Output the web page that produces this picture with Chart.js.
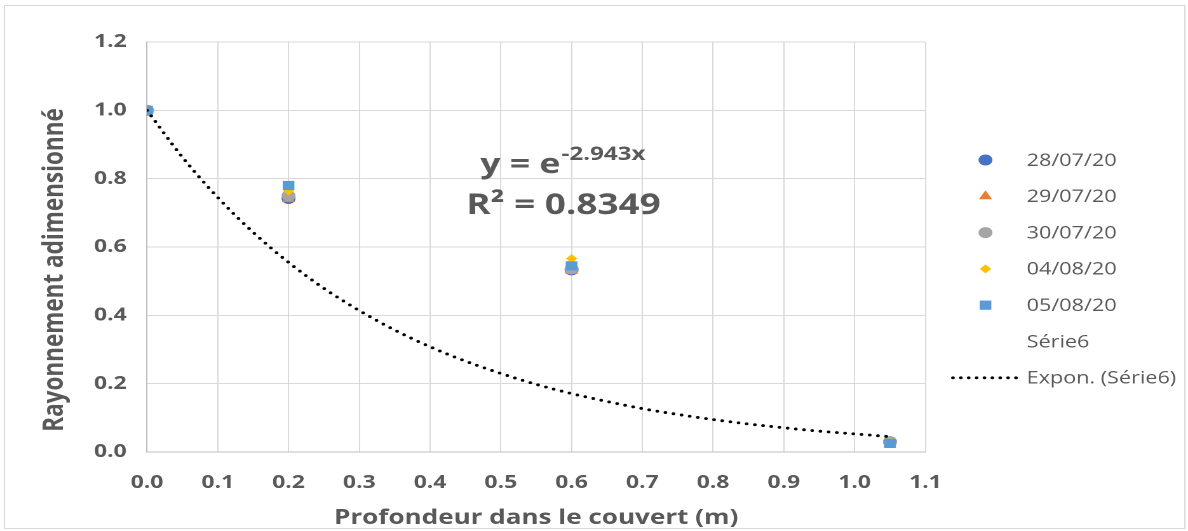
<!DOCTYPE html>
<html><head><meta charset="utf-8">
<script src="https://cdn.jsdelivr.net/npm/chart.js@4/dist/chart.umd.min.js"></script>
<style>
html,body{margin:0;padding:0;background:#fff;overflow:hidden}
#wrap{position:absolute;left:0;top:0;width:935px;height:531px;transform:scaleX(1.2706);transform-origin:0 0}
</style></head><body>
<div id="wrap"><canvas id="c" width="935" height="531"></canvas></div>
<script>
// ---- data ----
const depths = [0, 0.2, 0.6, 1.05];
const s2807 = [1.0, 0.742, 0.533, 0.030];
const s2907 = [1.0, 0.740, 0.530, 0.025];
const s3007 = [1.0, 0.750, 0.536, 0.030];
const s0408 = [1.0, 0.764, 0.566, 0.028];
const s0508 = [1.0, 0.780, 0.545, 0.025];
const seriesNames = ['28/07/20','29/07/20','30/07/20','04/08/20','05/08/20','Série6','Expon. (Série6)'];
const trendX = [0,0.05,0.1,0.15,0.2,0.25,0.3,0.35,0.4,0.45,0.5,0.55,0.6,0.65,0.7,0.75,0.8,0.85,0.9,0.95,1.0,1.05];
const trendY = [1.000,0.863,0.745,0.643,0.555,0.479,0.414,0.357,0.308,0.266,0.230,0.198,0.171,0.148,0.127,0.110,0.095,0.082,0.071,0.061,0.053,0.045];
const xTicks = [0,0.1,0.2,0.3,0.4,0.5,0.6,0.7,0.8,0.9,1.0,1.1];
const yTicks = [0,0.2,0.4,0.6,0.8,1.0,1.2];
const eqLine1 = 'y = e', eqSup = '-2.943x', eqLine2 = 'R² = 0.8349';
const xTitle = 'Profondeur dans le couvert (m)';
const yTitle = 'Rayonnement adimensionné';

const W0 = 935, PL = 115.7, PR = 728.3, PT = 42, PB = 452;
const txt = '#595959';
const pts = (arr) => depths.map((d,i)=>({x:d,y:arr[i]}));
const styles = [
  {c:'#4472C4', ps:'circle', r:5.5},
  {c:'#ED7D31', ps:'triangle', r:6},
  {c:'#A5A5A5', ps:'circle', r:5.5},
  {c:'#FFC000', ps:'rectRot', r:4.5},
  {c:'#5B9BD5', ps:'rect', r:6.5}
];
const vals = [s2807,s2907,s3007,s0408,s0508];
const datasets = vals.map((v,i)=>({
  label: seriesNames[i], data: pts(v), showLine:false,
  pointStyle: styles[i].ps, pointRadius: styles[i].r, pointHoverRadius: styles[i].r,
  backgroundColor: styles[i].c, borderColor: styles[i].c, pointBorderWidth: 0,
  order: 6 - i
}));
datasets.push({
  label: seriesNames[6], data: trendX.map((x,i)=>({x, y: trendY[i]})), showLine:true,
  pointRadius:0, borderColor:'#000', borderWidth:2.9, borderDash:[0,6.5], borderCapStyle:'round',
  cubicInterpolationMode:'monotone', fill:false, order:0
});

const deco = {
  id:'deco',
  afterDraw(chart){
    const ctx = chart.ctx;
    ctx.save();
    // outer frame
    ctx.strokeStyle = '#d9d9d9'; ctx.lineWidth = 1;
    ctx.strokeRect(3.5, 5.5, 929, 523);
    // equation
    ctx.fillStyle = txt; ctx.textAlign = 'left'; ctx.textBaseline = 'alphabetic';
    ctx.font = 'bold 28px "Open Sans"';
    ctx.fillText(eqLine1, 378, 173);
    const w = ctx.measureText(eqLine1).width;
    ctx.font = 'bold 19px "Open Sans"';
    ctx.fillText(eqSup, 378 + w + 1, 160);
    ctx.font = 'bold 29px "Open Sans"';
    ctx.fillText(eqLine2, 367, 214);
    // axis titles
    ctx.font = 'bold 20.5px "Open Sans"';
    ctx.textAlign = 'center'; ctx.textBaseline = 'middle';
    ctx.fillText(xTitle, (PL+PR)/2, 518);
    ctx.save();
    ctx.translate(43, 270); ctx.rotate(-Math.PI/2);
    ctx.font = 'bold 22.5px "Open Sans"';
    ctx.fillText(yTitle, 0, 0);
    ctx.restore();
    // legend
    const lx = 775.6, tx = 808, y0 = 160, dy = 36.3;
    ctx.font = '17px "Open Sans"'; ctx.textAlign = 'left'; ctx.textBaseline = 'middle';
    for (let i = 0; i < seriesNames.length; i++) {
      const y = y0 + i*dy;
      if (i < 5) {
        ctx.fillStyle = styles[i].c; ctx.strokeStyle = styles[i].c;
        Chart.helpers.drawPoint(ctx, {pointStyle: styles[i].ps, radius: styles[i].r, rotation: 0, borderWidth: 0}, lx, y);
      } else if (i === 6) {
        ctx.strokeStyle = '#000'; ctx.lineWidth = 2.9; ctx.lineCap = 'round';
        ctx.setLineDash([0, 6.2]);
        ctx.beginPath(); ctx.moveTo(750, y); ctx.lineTo(801, y); ctx.stroke();
        ctx.setLineDash([]);
      }
      ctx.fillStyle = txt;
      ctx.fillText(seriesNames[i], tx, y + 1);
    }
    ctx.restore();
  }
};

new Chart(document.getElementById('c'), {
  type: 'scatter',
  data: { datasets },
  options: {
    responsive: false, animation: false, devicePixelRatio: 2,
    layout: { padding: { left: 0, top: PT, right: W0 - PR, bottom: 0 } },
    plugins: { legend: { display: false }, tooltip: { enabled: false } },
    scales: {
      x: {
        type: 'linear', min: 0, max: 1.1,
        afterBuildTicks: (s) => { s.ticks = xTicks.map(v=>({value:v})); },
        afterFit: (s) => { s.height = 531 - PB; },
        grid: { color: '#d9d9d9', lineWidth: 1, drawTicks: false },
        border: { color: '#bfbfbf', width: 1 },
        ticks: { color: txt, padding: 20, font: { family: 'Open Sans', weight: 'bold', size: 18 }, callback: v => Number(v).toFixed(1), maxRotation: 0 }
      },
      y: {
        type: 'linear', min: 0, max: 1.2,
        afterBuildTicks: (s) => { s.ticks = yTicks.map(v=>({value:v})); },
        afterFit: (s) => { s.width = PL; },
        grid: { color: '#d9d9d9', lineWidth: 1, drawTicks: false },
        border: { color: '#bfbfbf', width: 1 },
        ticks: { color: txt, padding: 16, font: { family: 'Open Sans', weight: 'bold', size: 18 }, callback: v => Number(v).toFixed(1) }
      }
    }
  },
  plugins: [deco]
});
</script>
</body></html>
